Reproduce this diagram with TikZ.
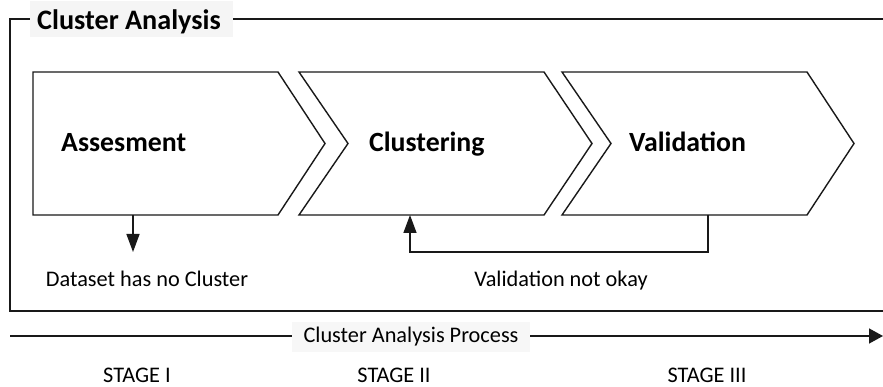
\documentclass[tikz,border=0pt]{standalone}
\usepackage{fontspec}
\setmainfont{Carlito}
\usetikzlibrary{arrows.meta}
\tikzset{
  frameline/.style={line width=1.6pt, draw=black!90},
  chev/.style={line width=1.4pt, draw=black!90, line join=miter},
  conn/.style={line width=1.5pt, draw=black!90},
  tip/.style={-{Triangle[length=18pt,width=13pt]}},
  ptip/.style={-{Triangle[length=14pt,width=15pt]}},
  bigtxt/.style={font=\fontsize{27.8}{32}\selectfont\bfseries, inner sep=0pt},
  titletxt/.style={font=\fontsize{28.2}{32}\selectfont\bfseries, inner sep=0pt},
  titlebg/.style={fill=black!4, draw=none},
  smalltxt/.style={font=\fontsize{22.3}{26}\selectfont, inner sep=0pt},
  procbg/.style={fill=black!3, draw=none}
}
\begin{document}
\begin{tikzpicture}[x=1pt,y=-1pt]
\useasboundingbox (0,0) rectangle (883,387);
% frame
\draw[frameline] (883,19) -- (10,19) -- (10,311) -- (883,311);
\fill[titlebg] (30,1) rectangle (233,37);
\node[titletxt, anchor=base west] (title) at (37,30) {Cluster Analysis};
% chevrons
\draw[chev] (33,72) -- (278,72) -- (325,143.5) -- (278,215) -- (33,215) -- cycle;
\draw[chev] (299,72) -- (544,72) -- (592,143.5) -- (544,215) -- (299,215) -- (348,143.5) -- cycle;
\draw[chev] (562,72) -- (807,72) -- (854,143.5) -- (807,215) -- (562,215) -- (611,143.5) -- cycle;
\node[bigtxt, anchor=base west] (assess) at (61,152) {Assesment};
\node[bigtxt, anchor=base west] (clust) at (369,152) {Clustering};
\node[bigtxt, anchor=base west] (valid) at (629,152) {Validation};
\coordinate (aout) at (133,215);
\coordinate (aend) at (133,252);
\coordinate (vout) at (708,215);
\coordinate (cin) at (410,215);
\draw[conn, tip] (aout) -- (aend);
\draw[conn, tip] (vout) -- (708,252) -| (cin);
\node[smalltxt, anchor=base] (nocl) at (147,287) {Dataset has no Cluster};
\node[smalltxt, anchor=base] (notok) at (561,287) {Validation not okay};
% process line
\coordinate (pstart) at (10,336);
\coordinate (pend) at (883,336);
\draw[conn, ptip] (pstart) -- (pend);
\fill[procbg] (292,322) rectangle (530,352);
\node[smalltxt, anchor=base] (proc) at (411,342) {Cluster Analysis Process};
\node[smalltxt, anchor=base] (s1) at (137,382) {STAGE I};
\node[smalltxt, anchor=base] (s2) at (394,382) {STAGE II};
\node[smalltxt, anchor=base] (s3) at (707,382) {STAGE III};
\end{tikzpicture}
\end{document}
